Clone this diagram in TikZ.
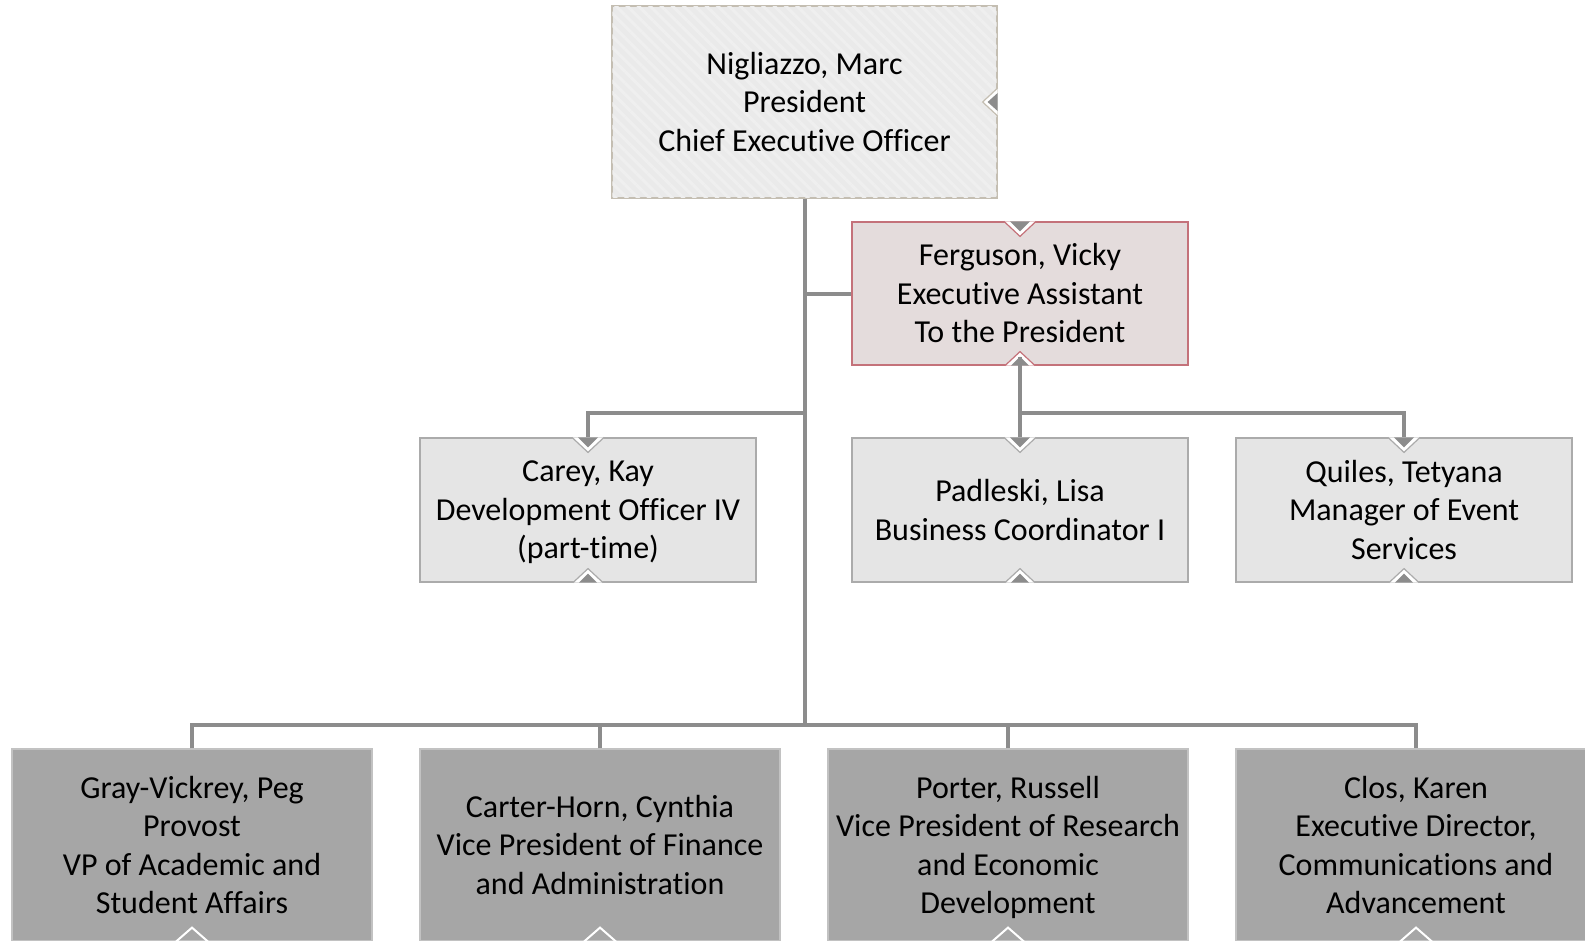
\documentclass[tikz,border=0pt]{standalone}
\usepackage{fontspec}
\setmainfont{Carlito}[Ligatures=NoCommon]
\usetikzlibrary{patterns.meta}
\definecolor{linecol}{HTML}{8C8C8C}
\definecolor{topfill}{HTML}{EAEAEA}
\definecolor{topstripe}{HTML}{EFEFEF}
\definecolor{topborder}{HTML}{C4BEB2}
\definecolor{midfill}{HTML}{E5E5E5}
\definecolor{midborder}{HTML}{ABABAB}
\definecolor{ferfill}{HTML}{E4DCDC}
\definecolor{ferborder}{HTML}{C4727A}
\definecolor{lowfill}{HTML}{A6A6A6}
\definecolor{lowborder}{HTML}{C2C2C2}
\newcommand\notchdown[2]{%
  \fill[white] ([xshift=-16pt]#1.north) -- ([yshift=-15pt]#1.north) -- ([xshift=16pt]#1.north) -- cycle;
  \draw[#2, line width=1.2pt] ([xshift=-16pt]#1.north) -- ([yshift=-15pt]#1.north) -- ([xshift=16pt]#1.north);
  \fill[linecol] ([xshift=-10pt]#1.north) -- ([yshift=-10pt]#1.north) -- ([xshift=10pt]#1.north) -- cycle;}
\newcommand\notchup[2]{%
  \fill[white] ([xshift=-15pt]#1.south) -- ([yshift=14pt]#1.south) -- ([xshift=15pt]#1.south) -- cycle;
  \draw[#2, line width=1.2pt] ([xshift=-15pt]#1.south) -- ([yshift=14pt]#1.south) -- ([xshift=15pt]#1.south);
  \fill[linecol] ([xshift=-9pt]#1.south) -- ([yshift=9pt]#1.south) -- ([xshift=9pt]#1.south) -- cycle;}
\newcommand\notchwhite[1]{%
  \draw[white, line width=2pt] ([xshift=-16pt]#1.south) -- ([yshift=14pt]#1.south) -- ([xshift=16pt]#1.south);}
% box node + its text node
\newcommand\person[4]{%
  \node[#2] (#1) at (#3) {};
  \node[base] (#1-t) at ([yshift=-5.5pt]#1.center) {#4};}
\begin{document}
\begin{tikzpicture}[x=1pt,y=-1pt,
  base/.style={rectangle, align=center, inner sep=0pt, font=\fontsize{32}{38.4}\selectfont, text=black,
    execute at begin node=\strut, execute at end node=\strut},
  topbox/.style={rectangle, minimum width=385pt, minimum height=192pt, fill=topfill, draw=topborder, line width=1.2pt},
  midbox/.style={rectangle, minimum width=336pt, minimum height=144pt, fill=midfill, draw=midborder, line width=1.2pt},
  ferbox/.style={rectangle, minimum width=336pt, minimum height=143pt, fill=ferfill, draw=ferborder, line width=1.2pt},
  lowbox/.style={rectangle, minimum width=360pt, minimum height=192pt, fill=lowfill, draw=lowborder, line width=1.2pt},
  conn/.style={draw=linecol, line width=4pt}]
\useasboundingbox (0,0) rectangle (1585,940);
\clip (0,0) rectangle (1585,940);
\fill[white] (0,0) rectangle (1585,940);

\node[topbox] (ceo) at (804.5,102) {};
\fill[pattern={Lines[angle=-45,distance=8pt,line width=3pt]}, pattern color=topstripe]
  ([xshift=1pt,yshift=-1pt]ceo.north west) rectangle ([xshift=-1pt,yshift=1pt]ceo.south east);
\node[base] (ceo-t) at ([yshift=-5.5pt]ceo.center) {Nigliazzo, Marc\\President\\Chief Executive Officer};

\person{fer}{ferbox}{1020,293.5}{Ferguson, Vicky\\Executive Assistant\\To the President}
\person{carey}{midbox}{588,510}{Carey, Kay\\Development Officer IV\\(part-time)}
\person{pad}{midbox}{1020,510}{Padleski, Lisa\\Business Coordinator I}
\person{qui}{midbox}{1404,510}{Quiles, Tetyana\\Manager of Event\\Services}

\person{gray}{lowbox}{192,845}{Gray-Vickrey, Peg\\Provost\\VP of Academic and\\Student Affairs}
\person{carter}{lowbox}{600,845}{Carter-Horn, Cynthia\\Vice President of Finance\\and Administration}
\person{porter}{lowbox}{1008,845}{Porter, Russell\\Vice President of Research\\and Economic\\Development}
\person{clos}{lowbox}{1416,845}{Clos, Karen\\Executive Director,\\Communications and\\Advancement}

\coordinate (busA) at (804.5,413);
\coordinate (busB) at (1020,413);
\coordinate (busC) at (804.5,725);

\draw[conn] (ceo.south) -- (busC);
\draw[conn] (busA |- fer.west) -- (fer.west);
\draw[conn] (busA) -| (carey.north);
\draw[conn] (fer.south) -- (pad.north);
\draw[conn] (busB) -| (qui.north);
\draw[conn] (gray.north) |- (busC) -| (clos.north);
\draw[conn] (carter.north) -- (carter.north |- busC);
\draw[conn] (porter.north) -- (porter.north |- busC);

% notches
\fill[white] ([yshift=14pt]ceo.east) -- ([xshift=-15pt]ceo.east) -- ([yshift=-14pt]ceo.east) -- cycle;
\draw[topborder, line width=1.2pt] ([yshift=14pt]ceo.east) -- ([xshift=-15pt]ceo.east) -- ([yshift=-14pt]ceo.east);
\fill[linecol] ([yshift=9pt]ceo.east) -- ([xshift=-10pt]ceo.east) -- ([yshift=-9pt]ceo.east) -- cycle;

\notchdown{fer}{ferborder}
\notchup{fer}{ferborder}
\draw[conn] ([yshift=9pt]fer.south) -- (fer.south);
\notchdown{carey}{midborder}
\notchup{carey}{midborder}
\notchdown{pad}{midborder}
\notchup{pad}{midborder}
\notchdown{qui}{midborder}
\notchup{qui}{midborder}
\notchwhite{gray}
\notchwhite{carter}
\notchwhite{porter}
\notchwhite{clos}
\end{tikzpicture}
\end{document}
